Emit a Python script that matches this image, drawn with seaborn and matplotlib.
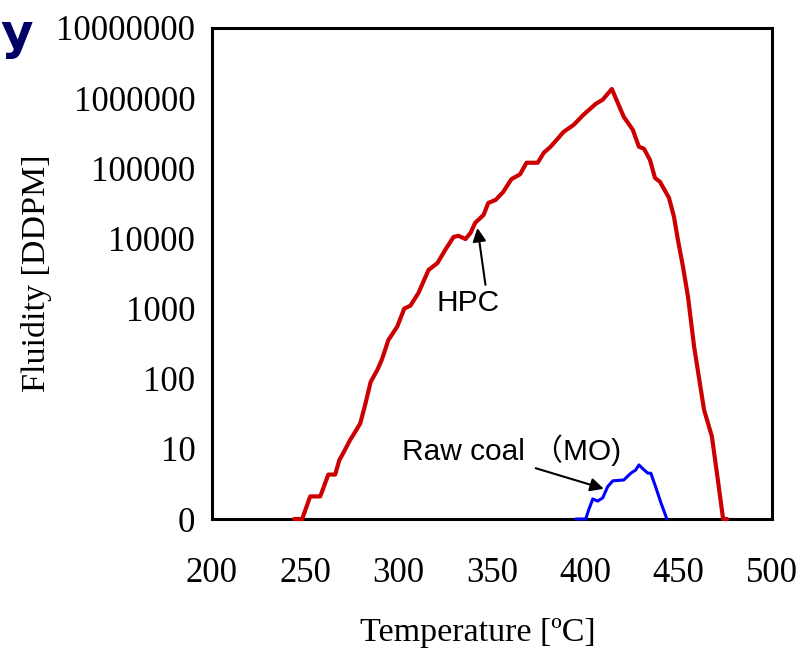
import matplotlib
matplotlib.use("Agg")
import matplotlib.pyplot as plt
import seaborn as sns
import pandas as pd

# HPC fluidity curve (baseline value 1 is shown as "0" on the axis)
hpc_temp = [244, 248.3, 252.6, 258, 262.3, 266, 268.2, 270.3, 274, 277, 279.4, 282,
            285, 288.6, 291, 294.5, 299.2, 303, 306.3, 310.6, 316, 320.8, 325, 329.4,
            332, 335.8, 338.5, 341, 345.5, 348, 352, 356, 360.4, 365, 368.5, 374.5,
            377.7, 381.4, 388.4, 393.8, 399, 405.6, 409.3, 414.2, 420.6, 425.4, 428.7,
            431.4, 434.6, 437.3, 440, 444.8, 447.5, 449.6, 452.3, 455, 458.3, 463.6,
            467.8, 471, 473.8, 476]
hpc_fluidity = [1, 1, 2.1, 2.1, 4.3, 4.3, 6.9, 8.7, 13.4, 18, 23, 42,
                90, 134, 187, 357, 550, 1000, 1100, 1670, 3550, 4470, 6900, 10500,
                10900, 9800, 12000, 16700, 21700, 32000, 35500, 46000, 70000, 82000, 120000, 120000,
                166000, 203000, 331000, 417000, 580000, 830000, 950000, 1350000, 540000, 355000, 203000,
                190000, 132000, 73000, 64000, 38000, 20300, 9500, 3960, 1470, 283, 36,
                15, 3.6, 1, 1]

# raw coal (MO)
raw_temp = [394.8, 400.2, 401.8, 404, 406.6, 409.3, 412, 414.7, 420.6, 424.4, 427,
            428.7, 430.8, 433.5, 435.1, 437.8, 440.5, 443.7]
raw_fluidity = [1, 1, 1.35, 1.93, 1.8, 2.0, 2.9, 3.5, 3.6, 4.5, 5.0,
                5.9, 5.2, 4.5, 4.5, 2.8, 1.7, 1]

x_ticks = [200, 250, 300, 350, 400, 450, 500]
y_ticks = [1, 10, 100, 1000, 10000, 100000, 1000000, 10000000]
y_tick_labels = ["0", "10", "100", "1000", "10000", "100000", "1000000", "10000000"]

hpc = pd.DataFrame({"T": hpc_temp, "F": hpc_fluidity})
raw = pd.DataFrame({"T": raw_temp, "F": raw_fluidity})

sns.set_theme(style="white")
plt.rcParams["font.family"] = ["Liberation Serif", "DejaVu Serif"]

fig = plt.figure(figsize=(7.99, 6.53), dpi=100)
ax = fig.add_axes([212 / 799, 1 - 519 / 653, 560 / 799, 491 / 653])

sns.lineplot(data=hpc, x="T", y="F", color="#cc0000", linewidth=3.0, sort=False,
             estimator=None, ax=ax, clip_on=False, zorder=4)
sns.lineplot(data=raw, x="T", y="F", color="#0000ff", linewidth=2.2, sort=False,
             estimator=None, ax=ax, clip_on=False, zorder=4)

ax.set_yscale("log")
ax.set_xlim(200, 500)
ax.set_ylim(1, 10000000)
ax.set_xticks(x_ticks)
ax.set_yticks(y_ticks)
ax.set_yticklabels(y_tick_labels)
ax.minorticks_off()
ax.tick_params(axis="both", direction="in", length=10, width=0.8, color="black",
               labelsize=25, labelcolor="black")
ax.tick_params(axis="x", pad=27)
ax.tick_params(axis="y", pad=12)
for s in ax.spines.values():
    s.set_linewidth(2.2)
    s.set_color("black")
    s.set_visible(True)

ax.set_xlabel("Temperature [ºC]", fontsize=24.5, color="black", va="center")
ax.xaxis.set_label_coords(0.475, -0.232)
ax.set_ylabel("Fluidity [DDPM]", fontsize=24.5, color="black", va="center")
ax.yaxis.set_label_coords(-0.314, 0.5)

sans = ["Liberation Sans", "Noto Sans CJK JP"]
ax.text(337.4, 1200, "HPC", fontsize=21.5, family=sans, ha="center", va="center", color="black")
ax.annotate("", xy=(342.2, 14100), xytext=(346.5, 2180),
            arrowprops=dict(arrowstyle="-|>", color="black", lw=1.5, mutation_scale=20,
                            shrinkA=0, shrinkB=0))
ax.text(302, 9.6, "Raw coal （MO)", fontsize=21.5, family=sans, ha="left", va="center", color="black")
ax.annotate("", xy=(409.9, 2.7), xytext=(373.4, 5.3),
            arrowprops=dict(arrowstyle="-|>", color="black", lw=1.5, mutation_scale=20,
                            shrinkA=0, shrinkB=0))

fig.text(0.0, 1 - 49 / 653, "y", fontsize=36, fontweight="bold", color="#000066",
         family=["DejaVu Sans"], ha="left", va="baseline")

fig.savefig("out.png", dpi=100)
